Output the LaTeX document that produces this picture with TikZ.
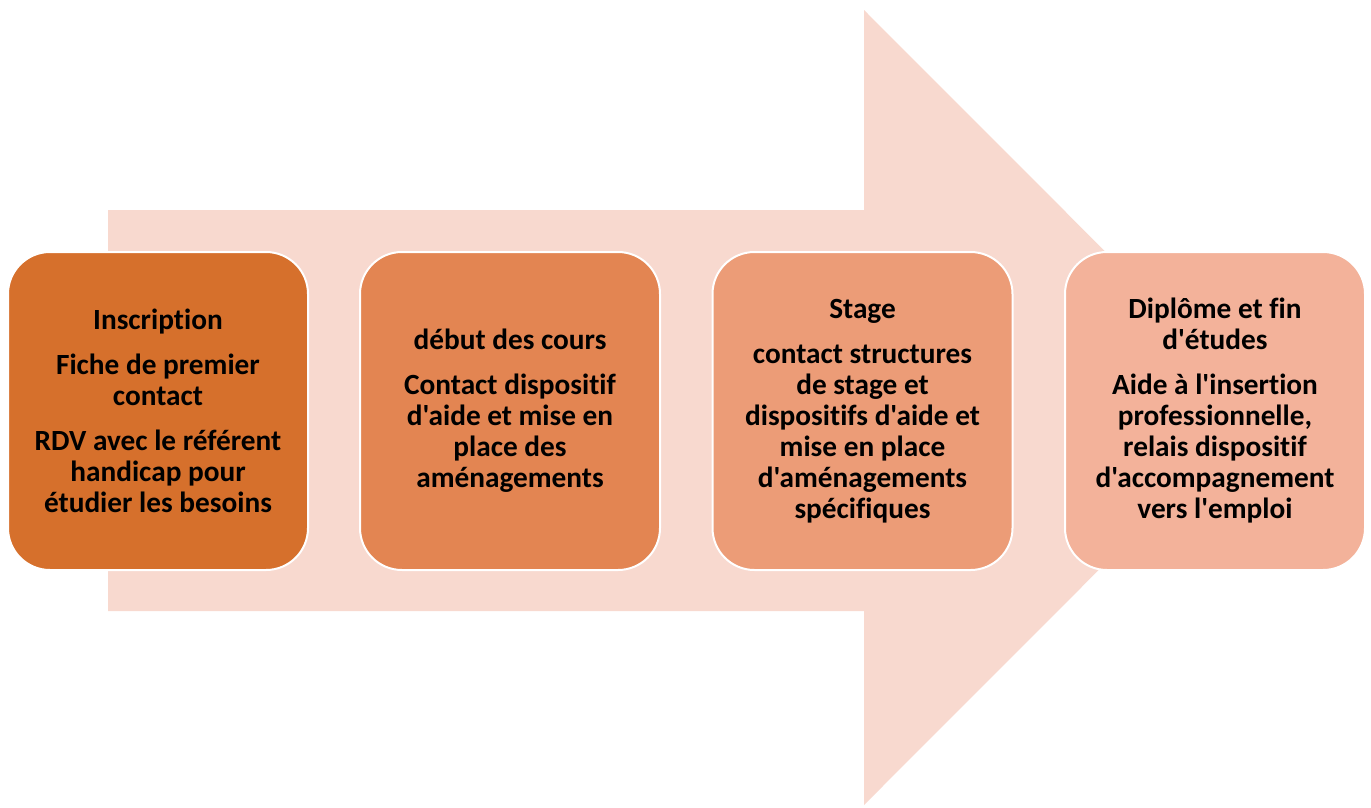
\documentclass[tikz,border=0pt]{standalone}
\usepackage{fontspec}
\setmainfont{Carlito}[Ligatures={NoCommon,TeXOff}]
\definecolor{arrowc}{HTML}{F8D9CF}
\definecolor{c1}{HTML}{D6702C}
\definecolor{c2}{HTML}{E38552}
\definecolor{c3}{HTML}{EC9C77}
\definecolor{c4}{HTML}{F3B29A}
\tikzset{
  stepbox/.style={draw=white, line width=2pt, rounded corners=42pt,
    minimum width=300pt, minimum height=318pt, align=center,
    font=\bfseries\fontsize{29.3}{31}\selectfont, text=black, inner sep=0pt}
}
\begin{document}
\begin{tikzpicture}[x=1pt,y=-1pt]
\useasboundingbox (0,0) rectangle (1371,807);
\fill[arrowc] (108,210) -- (864,210) -- (864,10) -- (1261,407.5) -- (864,805) -- (864,611) -- (108,611) -- cycle;
\node[stepbox, fill=c1] (s1) at (158,411) {Inscription\\[14pt]Fiche de premier\\contact\\[14pt]RDV avec le référent\\handicap pour\\étudier les besoins};
\node[stepbox, fill=c2] (s2) at (510,411) {début des cours\\[14pt]Contact dispositif\\d'aide et mise en\\place des\\aménagements};
\node[stepbox, fill=c3] (s3) at (862.5,411) {Stage\\[14pt]contact structures\\de stage et\\dispositifs d'aide et\\mise en place\\d'aménagements\\spécifiques};
\node[stepbox, fill=c4] (s4) at (1215,411) {Diplôme et fin\\d'études\\[14pt]Aide à l'insertion\\professionnelle,\\relais dispositif\\d'accompagnement\\vers l'emploi};
\end{tikzpicture}
\end{document}
